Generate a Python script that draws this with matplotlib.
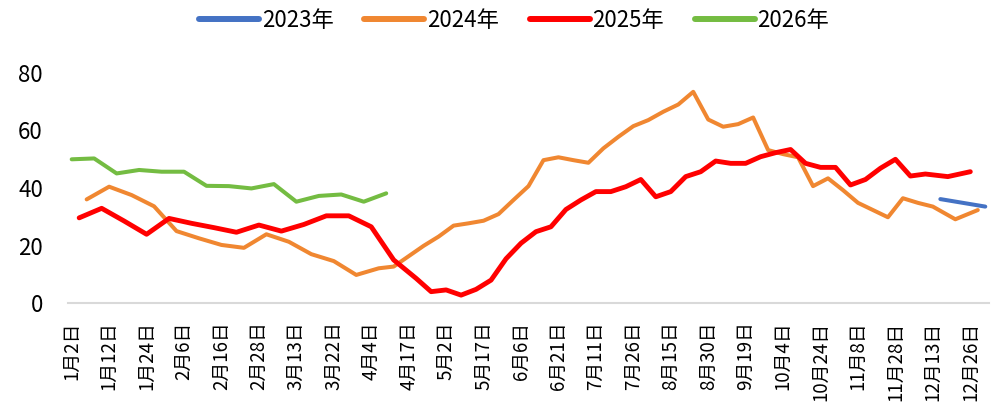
import matplotlib
matplotlib.use("Agg")
import matplotlib.pyplot as plt

plt.rcParams['font.family'] = ['Noto Sans CJK SC', 'DejaVu Sans']

# category axis: one slot per report date, a label every 5th slot
tick_labels = ["1月2日", "1月12日", "1月24日", "2月6日", "2月16日", "2月28日",
               "3月13日", "3月22日", "4月4日", "4月17日", "5月2日", "5月17日",
               "6月6日", "6月21日", "7月11日", "7月26日", "8月15日", "8月30日",
               "9月19日", "10月4日", "10月24日", "11月8日", "11月28日",
               "12月13日", "12月26日"]
n_slots = 123

# 2023
x_2023 = [116, 122]
y_2023 = [36.2, 33.6]

# 2024
x_2024 = [2, 5, 8, 11, 14, 17, 20, 23, 26, 29, 32, 35, 38, 41, 43, 47, 49, 51,
          53, 55, 57, 59, 61, 63, 65, 67, 69, 71, 73, 75, 77, 79, 81, 83, 85,
          87, 89, 91, 93, 95, 97, 99, 101, 103, 105, 107, 109, 111, 113, 115,
          118, 121]
y_2024 = [36.1, 40.5, 37.6, 33.7, 25.1, 22.6, 20.3, 19.3, 24.0, 21.4, 17.1,
          14.7, 9.9, 12.2, 12.8, 20.0, 23.2, 27.0, 27.8, 28.7, 31.0, 35.9,
          40.7, 49.7, 50.7, 49.7, 48.8, 53.8, 57.8, 61.5, 63.6, 66.5, 69.0,
          73.4, 63.8, 61.3, 62.2, 64.5, 53.2, 51.8, 50.7, 40.7, 43.4, 39.3,
          34.9, 32.4, 29.9, 36.5, 34.9, 33.6, 29.2, 32.4]

# 2025
x_2025 = [1, 4, 7, 10, 13, 16, 19, 22, 25, 28, 31, 34, 37, 40, 43, 46, 48, 50,
          52, 54, 56, 58, 60, 62, 64, 66, 68, 70, 72, 74, 76, 78, 80, 82, 84,
          86, 88, 90, 92, 94, 96, 98, 100, 102, 104, 106, 108, 110, 112, 114,
          117, 120]
y_2025 = [29.7, 33.0, 28.6, 24.0, 29.5, 27.8, 26.3, 24.7, 27.2, 25.1, 27.4,
          30.4, 30.4, 26.6, 15.1, 8.7, 4.1, 4.7, 2.9, 4.9, 8.1, 15.5, 20.9,
          24.9, 26.6, 32.6, 35.9, 38.8, 38.8, 40.5, 43.0, 37.0, 38.8, 44.0,
          45.7, 49.4, 48.6, 48.6, 50.9, 52.3, 53.4, 48.6, 47.2, 47.2, 41.1,
          43.0, 46.9, 50.0, 44.2, 44.9, 44.0, 45.7]

# 2026
x_2026 = [0, 3, 6, 9, 12, 15, 18, 21, 24, 27, 30, 33, 36, 39, 42]
y_2026 = [50.0, 50.3, 45.1, 46.3, 45.7, 45.7, 40.8, 40.7, 39.9, 41.4, 35.3,
          37.3, 37.8, 35.3, 38.2]

fig = plt.figure(figsize=(9.92, 4.09), dpi=100)
ax = fig.add_axes([0.0685, 0.258, 0.9285, 0.564])

ax.plot(x_2023, y_2023, color="#4472C4", lw=2.9, label="2023年", solid_capstyle="round")
ax.plot(x_2024, y_2024, color="#F08731", lw=2.9, label="2024年", solid_capstyle="round")
ax.plot(x_2025, y_2025, color="#FF0000", lw=3.5, label="2025年", solid_capstyle="round")
ax.plot(x_2026, y_2026, color="#74BC42", lw=2.9, label="2026年", solid_capstyle="round")

ax.set_xlim(-0.5, n_slots - 0.5)
ax.set_ylim(0, 80)
ax.set_yticks([0, 20, 40, 60, 80])
ax.set_xticks(range(0, 5 * len(tick_labels), 5))
ax.set_xticklabels(tick_labels, rotation=90, fontsize=13.5)
ax.tick_params(axis="x", length=0, pad=13)
ax.tick_params(axis="y", length=0, pad=18, labelsize=16)

for side in ["top", "right", "left"]:
    ax.spines[side].set_visible(False)
ax.spines["bottom"].set_color("#D9D9D9")
ax.spines["bottom"].set_linewidth(1.5)

leg = fig.legend(loc="center", bbox_to_anchor=(514 / 992, 1 - 20.7 / 409), ncol=4,
                 frameon=False, fontsize=16, handlelength=2.7, handletextpad=0.1,
                 columnspacing=1.4)
for line in leg.get_lines():
    line.set_linewidth(4.3)

fig.savefig("out.png", dpi=100)
